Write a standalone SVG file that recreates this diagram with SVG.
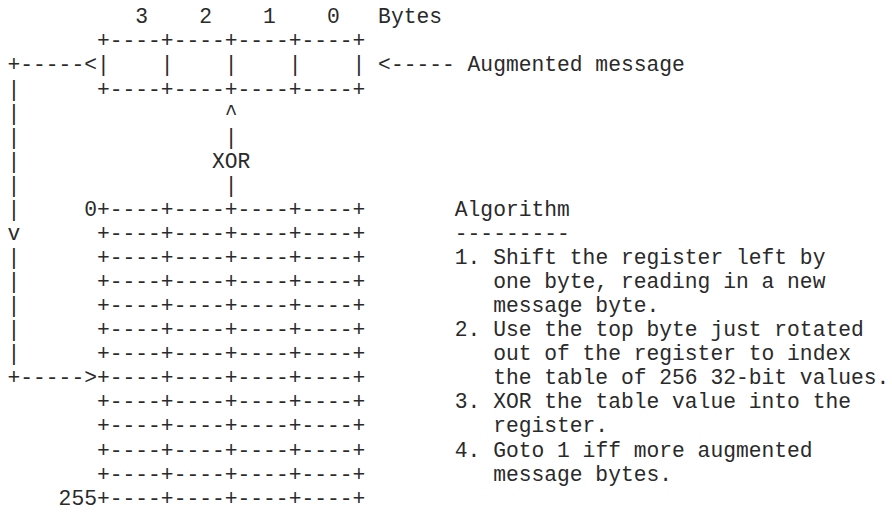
<svg xmlns="http://www.w3.org/2000/svg" width="892" height="518" viewBox="0 0 892 518" xml:space="preserve">
  <style>
    text { font-family: "Courier New", "Nimbus Mono PS", "FreeMono", "Liberation Mono", monospace; font-size: 21.3px; fill: #2a2a2a; white-space: pre; }
  </style>
  <rect width="892" height="518" fill="#fff"/>

  <!-- byte numbering above the register -->
  <g id="byte-labels">
    <text x="135.3" y="23.3">3    2    1    0   Bytes</text>
  </g>

  <!-- 32-bit register, four byte cells -->
  <g id="register">
    <text x="96.96" y="47.37">+----+----+----+----+</text>
    <text x="96.96" y="71.44">|    |    |    |    |</text>
    <text x="96.96" y="95.51">+----+----+----+----+</text>
  </g>

  <!-- message bytes shifted in from the right -->
  <g id="input">
    <text x="378.12" y="71.44">&lt;----- Augmented message</text>
  </g>

  <!-- 256-entry lookup table -->
  <g id="table">
    <text x="84.18" y="215.86">0+----+----+----+----+</text>
    <text x="96.96" y="239.93">+----+----+----+----+</text>
    <text x="96.96" y="264.0">+----+----+----+----+</text>
    <text x="96.96" y="288.07">+----+----+----+----+</text>
    <text x="96.96" y="312.14">+----+----+----+----+</text>
    <text x="96.96" y="336.21">+----+----+----+----+</text>
    <text x="96.96" y="360.28">+----+----+----+----+</text>
    <text x="96.96" y="384.35">+----+----+----+----+</text>
    <text x="96.96" y="408.42">+----+----+----+----+</text>
    <text x="96.96" y="432.49">+----+----+----+----+</text>
    <text x="96.96" y="456.56">+----+----+----+----+</text>
    <text x="96.96" y="480.63">+----+----+----+----+</text>
    <text x="58.62" y="504.7">255+----+----+----+----+</text>
  </g>

  <!-- algorithm description -->
  <g id="algorithm">
    <text x="454.8" y="215.86">Algorithm</text>
    <text x="454.8" y="239.93">---------</text>
    <text x="454.8" y="264.0">1. Shift the register left by</text>
    <text x="493.14" y="288.07">one byte, reading in a new</text>
    <text x="493.14" y="312.14">message byte.</text>
    <text x="454.8" y="336.21">2. Use the top byte just rotated</text>
    <text x="493.14" y="360.28">out of the register to index</text>
    <text x="493.14" y="384.35">the table of 256 32-bit values.</text>
    <text x="454.8" y="408.42">3. XOR the table value into the</text>
    <text x="493.14" y="432.49">register.</text>
    <text x="454.8" y="456.56">4. Goto 1 iff more augmented</text>
    <text x="493.14" y="480.63">message bytes.</text>
  </g>

  <!-- connectors: top byte feeds the table index, table entry XORs into the register -->
  <g id="connectors">
    <g id="index-loop">
      <text x="7.5" y="71.44">+-----&lt;</text>
      <text x="7.5" y="95.51">|</text>
      <text x="7.5" y="119.58">|</text>
      <text x="7.5" y="143.65">|</text>
      <text x="7.5" y="167.72">|</text>
      <text x="7.5" y="191.79">|</text>
      <text x="7.5" y="215.86">|</text>
      <text x="7.5" y="239.93">v</text>
      <text x="7.5" y="264.0">|</text>
      <text x="7.5" y="288.07">|</text>
      <text x="7.5" y="312.14">|</text>
      <text x="7.5" y="336.21">|</text>
      <text x="7.5" y="360.28">|</text>
      <text x="7.5" y="384.35">+-----&gt;</text>
    </g>
    <g id="xor-link">
      <text x="224.76" y="119.58">^</text>
      <text x="224.76" y="143.65">|</text>
      <text x="211.98" y="167.72">XOR</text>
      <text x="224.76" y="191.79">|</text>
    </g>
  </g>
</svg>
